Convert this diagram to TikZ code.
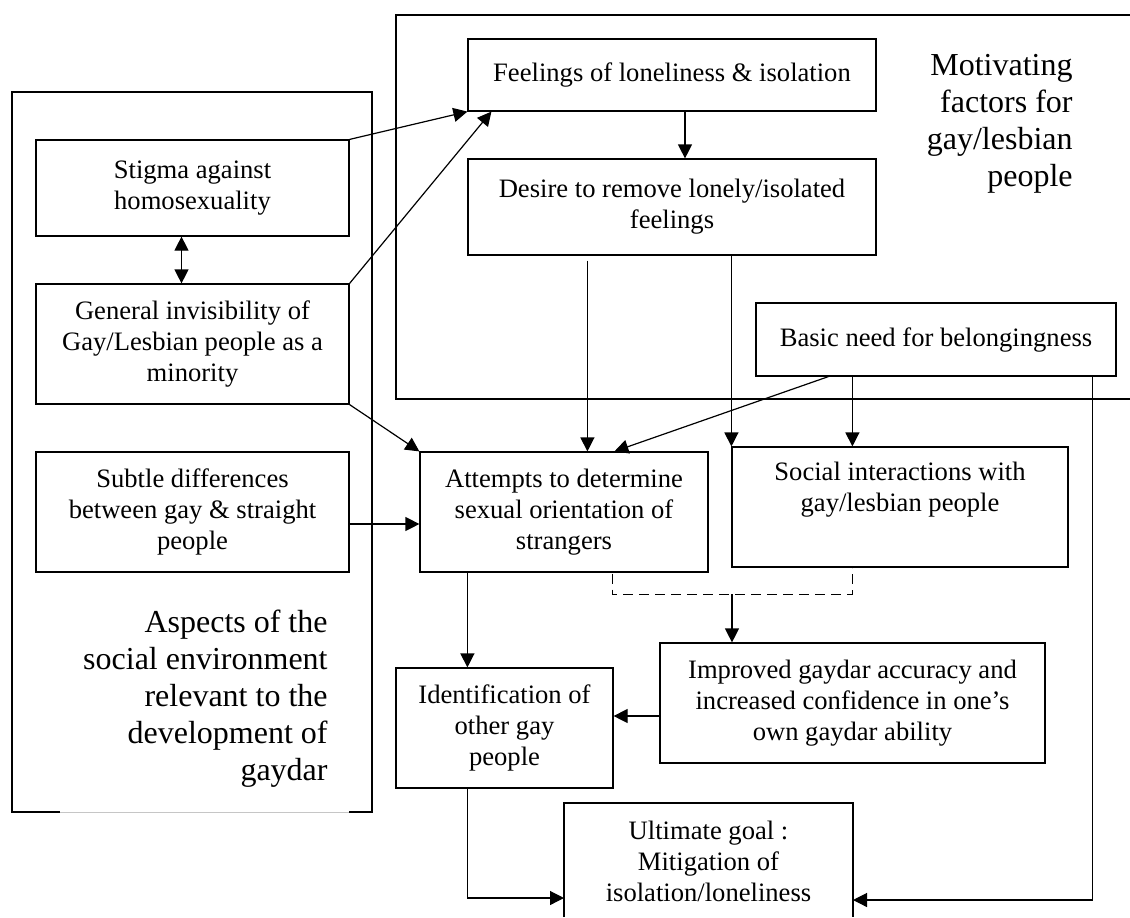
\documentclass[tikz,border=0pt]{standalone}
\usepackage{fontspec}
\setmainfont{Liberation Serif}
\usepackage{tikz}
\usetikzlibrary{arrows.meta,calc}

\begin{document}
\begin{tikzpicture}[x=0.5pt,y=-0.5pt,
    box/.style={draw, line width=0.6pt, align=center, inner sep=2pt,
      font=\fontsize{13.3pt}{15.5pt}\selectfont},
    arr/.style={line width=0.6pt, -{Triangle[length=7pt,width=7pt]}},
    twoarr/.style={line width=0.6pt, {Triangle[length=7pt,width=7pt]}-{Triangle[length=7pt,width=7pt]}},
    big/.style={align=right, inner sep=0pt, font=\fontsize{16pt}{18.5pt}\selectfont}]
    \useasboundingbox (0,0) rectangle (1130,917);

    \draw[line width=0.6pt] (1130,15) -- (396,15) -- (396,399) -- (1130,399);
    \draw[line width=0.6pt] (60,812) -- (12,812) -- (12,92) -- (372,92) -- (372,812) -- (349,812);
    \draw[gray!45, line width=0.4pt] (60,812) -- (349,812);

    \node[box, minimum width=156.5pt, minimum height=48pt] (stigma) at (192.5,188) {Stigma against\\homosexuality};
    \node[box, minimum width=156.5pt, minimum height=60pt] (invis) at (192.5,344) {General invisibility of\\Gay/Lesbian people as a\\minority};
    \node[box, minimum width=156.5pt, minimum height=60pt] (subtle) at (192.5,512) {Subtle differences\\between gay \& straight\\people};

    \node[box, minimum width=204pt, minimum height=36pt] (feel) at (672,75) {Feelings of loneliness \& isolation};
    \node[box, minimum width=204pt, minimum height=48pt] (desire) at (672,207) {Desire to remove lonely/isolated\\feelings};
    \node[box, minimum width=180pt, minimum height=36.5pt] (basic) at (936,339.5) {Basic need for belongingness};

    \node[box, minimum width=144pt, minimum height=60pt] (attempt) at (564,512) {Attempts to determine\\sexual orientation of\\strangers};
    \node[box, minimum width=168pt, minimum height=60pt] (social) at (900,507) {Social interactions with\\gay/lesbian people\\\strut};
    \node[box, minimum width=192.5pt, minimum height=60pt] (improved) at (852.5,703) {Improved gaydar accuracy and\\increased confidence in one’s\\own gaydar ability};
    \node[box, minimum width=108.5pt, minimum height=60pt] (ident) at (504.5,728) {Identification of\\other gay\\people};

    \draw[line width=0.6pt] (564,917) -- (564,803) -- (853,803) -- (853,917);
    \node[box, draw=none] (goal) at (708.5,861) {Ultimate goal :\\Mitigation of\\isolation/loneliness};
    \coordinate (gl) at (564,898);
    \coordinate (gr) at (853,900);

    \node[big, anchor=east] (aspects) at (328,699) {Aspects of the\\social environment\\relevant to the\\development of\\gaydar};
    \node[big, anchor=east] (motive) at (1073,124) {Motivating\\factors for\\gay/lesbian\\people};

    \draw[arr] (stigma.north east) -- (feel.south west);
    \draw[arr] (invis.north east) -- ([xshift=12pt]feel.south west);
    \draw[twoarr] ([xshift=-5.5pt]stigma.south) -- ([xshift=-5.5pt]invis.north);
    \draw[arr] (invis.south east) -- (attempt.north west);
    \draw[arr] ([yshift=-6pt]subtle.east) -- ([yshift=-6pt]attempt.west);

    \draw[arr] ([xshift=6.5pt]feel.south) -- ([xshift=6.5pt]desire.north);
    \draw[arr] ([xshift=60pt,yshift=-2.5pt]desire.south west) -- ([xshift=84pt]attempt.north west);
    \draw[arr] ([xshift=132pt]desire.south west) -- (social.north west);
    \draw[arr] ([xshift=36.5pt]basic.south west) -- ([xshift=97.5pt]attempt.north west);
    \draw[arr] ([xshift=48.5pt]basic.south west) coordinate (b2) -- (b2 |- social.north);
    \draw[arr] ([xshift=168.5pt]basic.south west) |- (gr);

    \draw[line width=0.6pt, dash pattern=on 5pt off 3pt] ([xshift=96.5pt,yshift=-0.5pt]attempt.south west) -- ++(0,21) coordinate (dl)
        -| ([xshift=60.5pt]social.south west);
    \coordinate (dmid) at (732,594);
    \draw[arr] (dmid) -- (dmid |- improved.north);
    \draw[arr] ([yshift=-6.5pt]improved.west) -- ([yshift=-6.5pt]improved.west -| ident.east);

    \draw[arr] ([xshift=24pt]attempt.south west) coordinate (a1) -- (a1 |- ident.north);
    \draw[arr] (a1 |- ident.south) |- (gl);
\end{tikzpicture}
\end{document}
